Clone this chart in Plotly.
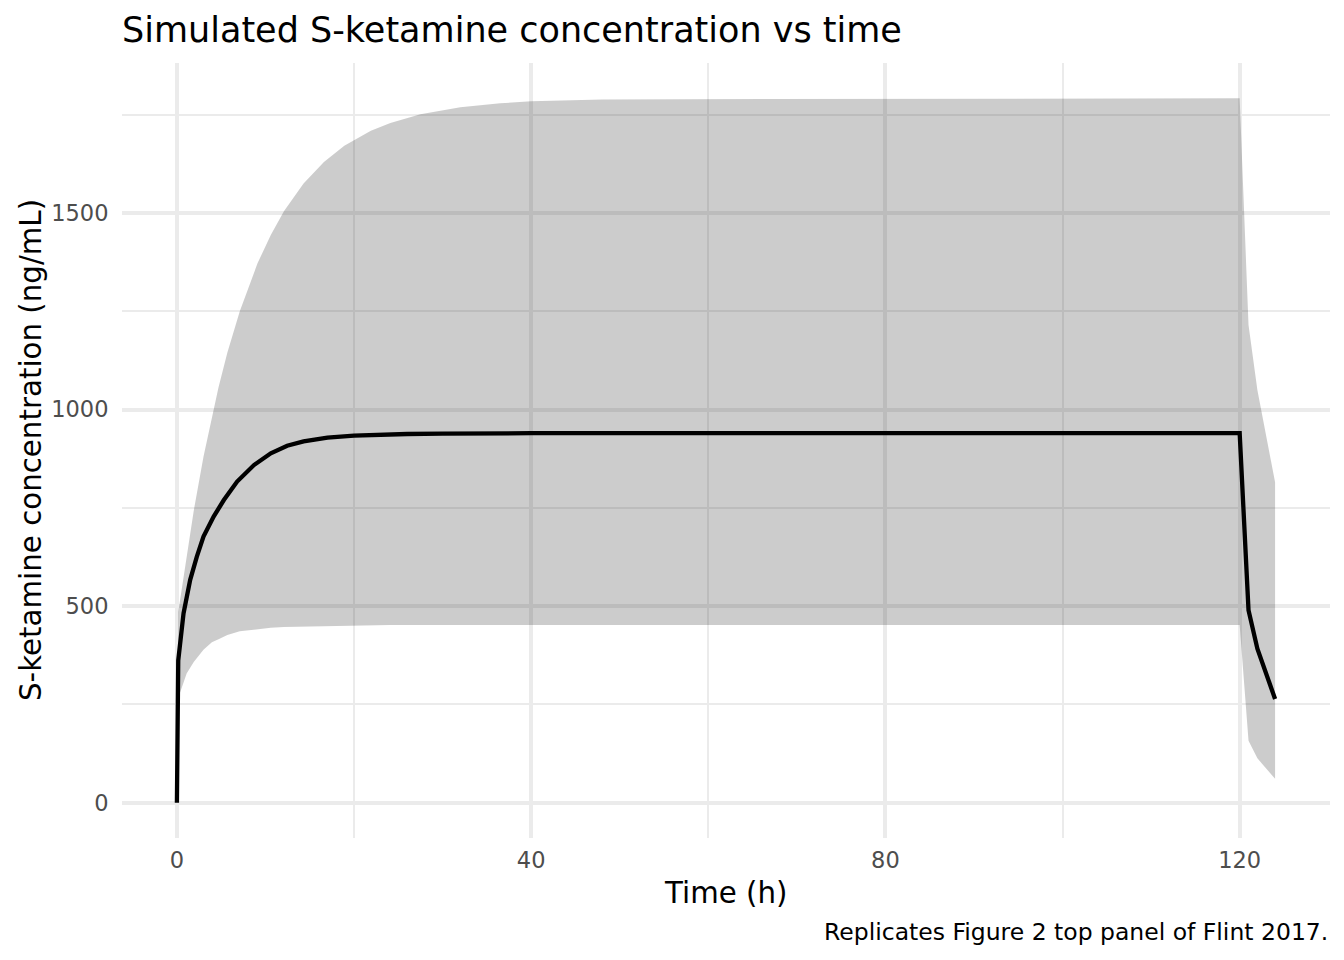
import plotly.graph_objects as go

# Median simulated concentration (ng/mL) vs time (h)
time_mean = [0, 0.15, 0.75, 1.5, 2.25, 3.0, 4.15, 5.3, 6.8, 8.7, 10.6, 12.45, 14.3, 17.0,
             20.0, 22.0, 26.0, 30.0, 40.0, 120.0, 121.0, 122.0, 124.0]
conc_mean = [0, 362, 482, 567, 626, 677, 728, 770, 817, 859, 889, 908, 919, 929,
             934, 936, 938, 939, 940, 940, 490, 392, 264]

# Prediction interval band
time_band = [0.15, 0.4, 1.1, 1.9, 3.0, 3.95, 4.7, 5.7, 7.1, 9.1, 10.6, 12.1, 14.3, 16.6,
             18.9, 21.9, 24.1, 27.5, 32.0, 36.5, 40.0, 48.0, 120.0, 121.0, 122.0, 124.0]
conc_upper = [485, 523, 631, 743, 880, 983, 1057, 1145, 1250, 1372, 1444, 1505, 1575, 1630,
              1671, 1709, 1729, 1751, 1769, 1779, 1784, 1789, 1792, 1215, 1050, 815]
conc_lower = [270, 283, 329, 358, 389, 408, 416, 427, 436, 442, 445, 447, 448, 450,
              451, 451, 452, 452, 452, 452, 452, 452, 452, 158, 113, 61]

x_ticks = [0, 40, 80, 120]
y_ticks = [0, 500, 1000, 1500]

FONT = "DejaVu Sans"
W, H = 1344, 960
ML, MR, MT, MB = 122, 14, 63, 122

fig = go.Figure()
fig.add_trace(go.Scatter(x=time_band, y=conc_lower, mode="lines",
                         line=dict(width=0), hoverinfo="skip", showlegend=False))
fig.add_trace(go.Scatter(x=time_band, y=conc_upper, mode="lines", fill="tonexty",
                         fillcolor="rgba(0,0,0,0.2)", line=dict(width=0),
                         hoverinfo="skip", showlegend=False))
fig.add_trace(go.Scatter(x=time_mean, y=conc_mean, mode="lines",
                         line=dict(color="black", width=4.3), showlegend=False))

xr = [0 - 0.05 * 124, 124 + 0.05 * 124]
yr = [0 - 0.05 * 1792, 1792 + 0.05 * 1792]

grid_major = "#EBEBEB"
fig.update_xaxes(range=xr, tickvals=x_ticks, ticktext=[str(v) for v in x_ticks],
                 showgrid=True, gridcolor=grid_major, gridwidth=3.6,
                 zeroline=False, showline=False,
                 ticks="outside", ticklen=2, tickcolor="rgba(0,0,0,0)",
                 tickfont=dict(family=FONT, size=22.5, color="#4D4D4D"),
                 minor=dict(tickvals=[20, 60, 100], showgrid=True,
                            gridcolor=grid_major, gridwidth=1.8, ticks=""))
fig.update_yaxes(range=yr, tickvals=y_ticks, ticktext=[str(v) for v in y_ticks],
                 showgrid=True, gridcolor=grid_major, gridwidth=3.6,
                 zeroline=False, showline=False,
                 ticks="outside", ticklen=8, tickcolor="rgba(0,0,0,0)",
                 tickfont=dict(family=FONT, size=22.5, color="#4D4D4D"),
                 minor=dict(tickvals=[250, 750, 1250, 1750], showgrid=True,
                            gridcolor=grid_major, gridwidth=1.8, ticks=""))

pw = W - ML - MR
ph = H - MT - MB

def px_to_paper_x(px):
    return (px - ML) / pw

def px_to_paper_y(py):
    return (H - MB - py) / ph

fig.update_layout(
    width=W, height=H,
    margin=dict(l=ML, r=MR, t=MT, b=MB),
    paper_bgcolor="white", plot_bgcolor="white",
    font=dict(family=FONT, color="black"),
    title=dict(text="Simulated S-ketamine concentration vs time",
               font=dict(family=FONT, size=35, color="black"),
               x=ML / W, xanchor="left", xref="container",
               y=1 - 30 / H, yanchor="middle", yref="container"),
    annotations=[
        dict(text="Time (h)", xref="paper", yref="paper",
             x=px_to_paper_x(725), y=px_to_paper_y(893),
             xanchor="center", yanchor="middle", showarrow=False,
             font=dict(family=FONT, size=29.3, color="black")),
        dict(text="S-ketamine concentration (ng/mL)", xref="paper", yref="paper",
             x=px_to_paper_x(31), y=px_to_paper_y(450), textangle=-90,
             xanchor="center", yanchor="middle", showarrow=False,
             font=dict(family=FONT, size=29.3, color="black")),
        dict(text="Replicates Figure 2 top panel of Flint 2017.", xref="paper", yref="paper",
             x=px_to_paper_x(1330), y=px_to_paper_y(932),
             xanchor="right", yanchor="middle", showarrow=False,
             font=dict(family=FONT, size=23.5, color="black")),
    ],
)

fig.write_html("out.html")
